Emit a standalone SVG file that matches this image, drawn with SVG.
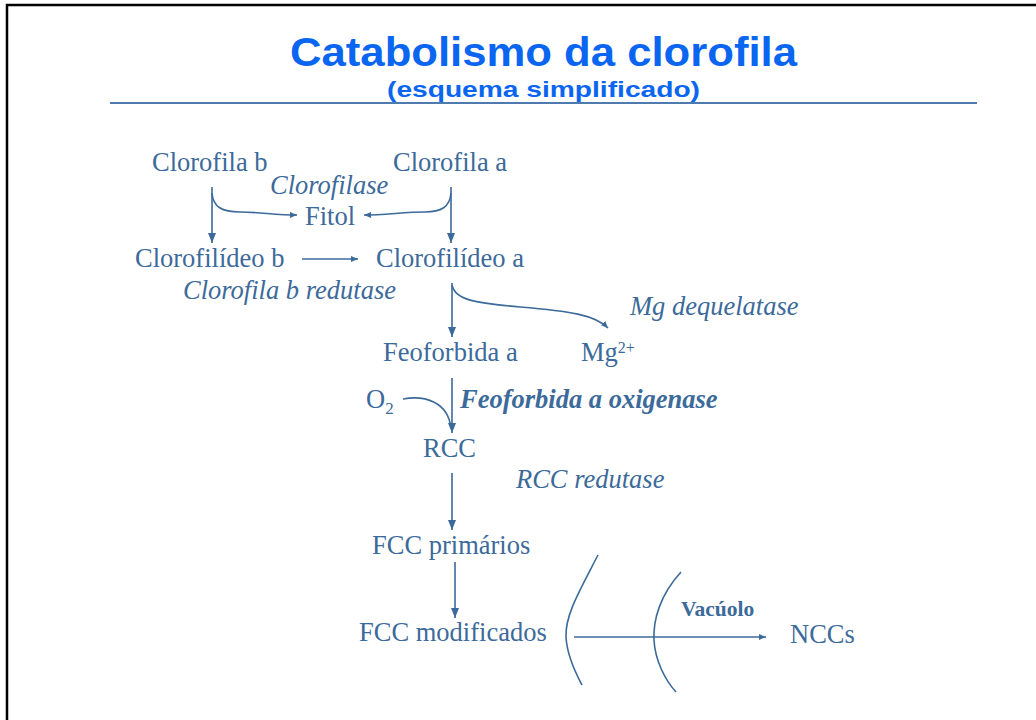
<svg xmlns="http://www.w3.org/2000/svg" width="1036" height="720" viewBox="0 0 1036 720">
<style>
.t{font-family:"Liberation Serif","Times New Roman",serif;font-size:26.5px;fill:#3C6A9A}
.i{font-style:italic}
.b{font-weight:bold}
.v{font-size:21.5px}
.c{fill:none;stroke:#3C6A9A;stroke-width:1.6}
.h{font-family:"Liberation Sans",Arial,sans-serif;font-weight:bold;fill:#0A66F0}
</style>
<defs>
<marker id="big" viewBox="0 0 10 8" refX="10" refY="4" markerWidth="10" markerHeight="8" markerUnits="userSpaceOnUse" orient="auto">
<path d="M0,0 L10,4 L0,8 Z" fill="#3C6A9A"/>
</marker>
<marker id="sm" viewBox="0 0 7 6" refX="7" refY="3" markerWidth="7" markerHeight="6" markerUnits="userSpaceOnUse" orient="auto">
<path d="M0,0 L7,3 L0,6 Z" fill="#3C6A9A"/>
</marker>
</defs>
<rect width="1036" height="720" fill="#ffffff"/>
<path d="M7,720 V5 H1036" fill="none" stroke="#000" stroke-width="2.5"/>
<g id="title">
<text class="h" x="290" y="66" font-size="40" textLength="507" lengthAdjust="spacingAndGlyphs">Catabolismo da clorofila</text>
<text class="h" x="387" y="97" font-size="22" textLength="313" lengthAdjust="spacingAndGlyphs">(esquema simplificado)</text>
<line x1="110" y1="103" x2="977" y2="103" stroke="#4F7AAD" stroke-width="2"/>
</g>
<g id="connectors">
<path class="c" d="M212,187 V243" marker-end="url(#big)"/>
<path class="c" d="M212,193 C213,207 222,212 240,212 C260,212 275,215 297,215" marker-end="url(#sm)"/>
<path class="c" d="M451,187 V243" marker-end="url(#big)"/>
<path class="c" d="M451,193 C450,207 441,212 425,212 C405,212 385,215 364,215" marker-end="url(#sm)"/>
<path class="c" d="M302,259 H358" marker-end="url(#sm)"/>
<path class="c" d="M452,283 V337" marker-end="url(#big)"/>
<path class="c" d="M452,285 C455,300 475,303 520,307 C570,311 595,315 608,328" marker-end="url(#sm)"/>
<path class="c" d="M452,378 V433" marker-end="url(#big)"/>
<path class="c" d="M403,399 C425,395 448,402 451,428"/>
<path class="c" d="M452,473 V530" marker-end="url(#big)"/>
<path class="c" d="M455,562 V618" marker-end="url(#big)"/>
<path class="c" d="M574,637 H766" marker-end="url(#sm)"/>
<path class="c" d="M598,555 C580,590 565,615 566,637 C567,655 575,672 582,685"/>
<path class="c" d="M681,572 C660,595 653,620 654,640 C655,660 665,680 676,692"/>
</g>
<g id="clorofila-b"><text class="t" x="152" y="171">Clorofila b</text></g>
<g id="clorofila-a"><text class="t" x="393" y="171">Clorofila a</text></g>
<g id="clorofilase"><text class="t i" x="270" y="194">Clorofilase</text></g>
<g id="fitol"><text class="t" x="305" y="225">Fitol</text></g>
<g id="clorofilideo-b"><text class="t" x="135" y="267">Clorofilídeo b</text></g>
<g id="clorofilideo-a"><text class="t" x="376" y="267">Clorofilídeo a</text></g>
<g id="clorofila-b-redutase"><text class="t i" x="183" y="299">Clorofila b redutase</text></g>
<g id="mg-dequelatase"><text class="t i" x="630" y="315">Mg dequelatase</text></g>
<g id="feoforbida-a"><text class="t" x="383" y="361">Feoforbida a</text></g>
<g id="mg2"><text class="t" x="581" y="361">Mg<tspan font-size="16" dy="-8">2+</tspan></text></g>
<g id="o2"><text class="t" x="366" y="408">O<tspan font-size="17" dy="6">2</tspan></text></g>
<g id="feoforbida-oxigenase"><text class="t i b" x="460" y="408">Feoforbida a oxigenase</text></g>
<g id="rcc"><text class="t" x="423" y="457">RCC</text></g>
<g id="rcc-redutase"><text class="t i" x="516" y="488">RCC redutase</text></g>
<g id="fcc-primarios"><text class="t" x="372" y="554">FCC primários</text></g>
<g id="fcc-modificados"><text class="t" x="359" y="641">FCC modificados</text></g>
<g id="vacuolo"><text class="t b v" x="681" y="616">Vacúolo</text></g>
<g id="nccs"><text class="t" x="790" y="643">NCCs</text></g>
</svg>
